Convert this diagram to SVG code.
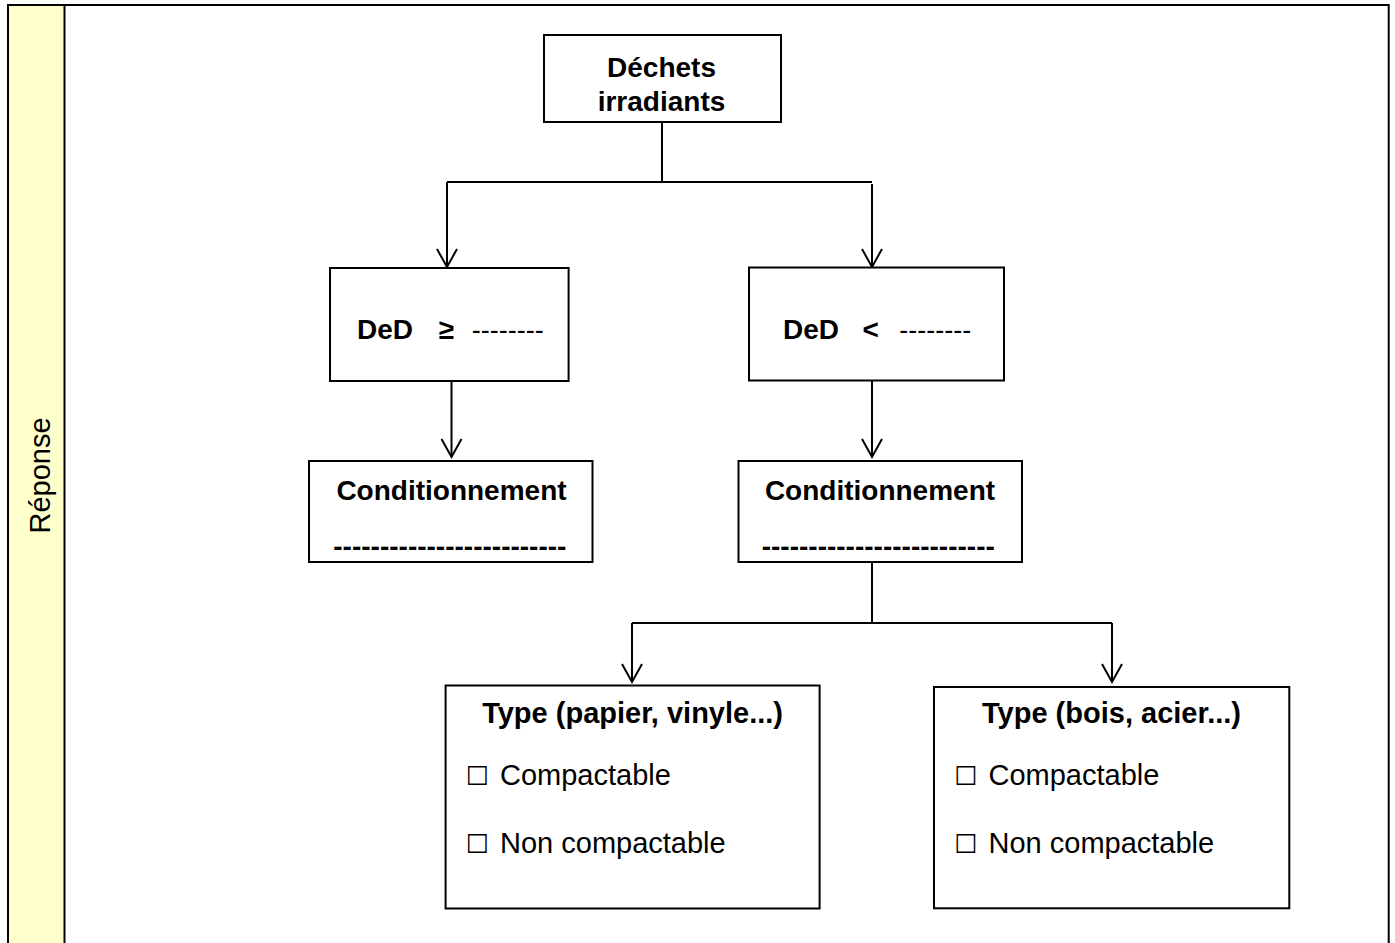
<svg xmlns="http://www.w3.org/2000/svg" width="1395" height="943" viewBox="0 0 1395 943">
<style>
.box{fill:#fff;stroke:#000;stroke-width:2}
.conn{fill:none;stroke:#000;stroke-width:2}
.b{font-family:"Liberation Sans",Arial,sans-serif;font-weight:bold;font-size:28px;fill:#000}
.r{font-family:"Liberation Sans",Arial,sans-serif;font-size:29px;fill:#000}
.ck{font-family:"DejaVu Sans",sans-serif;font-size:26px}
.m{text-anchor:middle}
</style>
<defs>
<marker id="v" markerUnits="userSpaceOnUse" viewBox="-20 -12 24 24" markerWidth="24" markerHeight="24" refX="0" refY="0" orient="auto">
<path d="M-18,-10 L0,0 L-18,10" fill="none" stroke="#000" stroke-width="2"/>
</marker>
</defs>
<rect width="1395" height="943" fill="#fff"/>
<g id="frame">
<rect x="8" y="5" width="56.5" height="940" fill="#FFFFCC"/>
<path d="M8,945 V5 H1388.7 V945 M64.5,5 V945" fill="none" stroke="#000" stroke-width="2"/>
<text class="r m" transform="translate(49.5,475.5) rotate(-90)">Réponse</text>
</g>
<g id="connectors">
<path class="conn" d="M662,122 V182 M447,182 H872"/>
<path class="conn" d="M447,182 V267" marker-end="url(#v)"/>
<path class="conn" d="M872,184 V267" marker-end="url(#v)"/>
<path class="conn" d="M451.5,381 V457" marker-end="url(#v)"/>
<path class="conn" d="M872,381 V457" marker-end="url(#v)"/>
<path class="conn" d="M872,562 V623 M632,623 H1112"/>
<path class="conn" d="M632,623 V682" marker-end="url(#v)"/>
<path class="conn" d="M1112,623 V682" marker-end="url(#v)"/>
</g>
<g id="n-dechets">
<rect class="box" x="544" y="35" width="237" height="87"/>
<text class="b m" x="661.5" y="77">Déchets</text>
<text class="b m" x="661.5" y="111">irradiants</text>
</g>
<g id="n-ded-ge">
<rect class="box" x="330" y="268" width="238.6" height="113"/>
<text class="b" x="357" y="338.5">DeD</text>
<text class="b" x="438.5" y="338.5">≥</text>
<text class="r" x="471.8" y="338.5" style="font-size:27px">--------</text>
</g>
<g id="n-ded-lt">
<rect class="box" x="749" y="267.5" width="255" height="113"/>
<text class="b" x="783" y="338.5">DeD</text>
<text class="b" x="862.5" y="338.5">&lt;</text>
<text class="r" x="899.3" y="338.5" style="font-size:27px">--------</text>
</g>
<g id="n-cond-left">
<rect class="box" x="309" y="461" width="283.5" height="101"/>
<text class="b m" x="451.5" y="499.5">Conditionnement</text>
<text class="b" x="333.3" y="556">-------------------------</text>
</g>
<g id="n-cond-right">
<rect class="box" x="738.5" y="461" width="283.5" height="101"/>
<text class="b m" x="880" y="499.5">Conditionnement</text>
<text class="b" x="761.7" y="556">-------------------------</text>
</g>
<g id="n-type-papier">
<rect class="box" x="445.6" y="685.5" width="374" height="223"/>
<text class="b m" x="632.6" y="723.3" style="font-size:29px">Type (papier, vinyle...)</text>
<text class="r" x="465.5" y="785"><tspan class="ck">☐</tspan> <tspan x="500">Compactable</tspan></text>
<text class="r" x="465.5" y="853"><tspan class="ck">☐</tspan> <tspan x="500">Non compactable</tspan></text>
</g>
<g id="n-type-bois">
<rect class="box" x="934" y="687" width="355.3" height="221.3"/>
<text class="b m" x="1111.5" y="723.3" style="font-size:29px">Type (bois, acier...)</text>
<text class="r" x="954" y="785"><tspan class="ck">☐</tspan> <tspan x="988.5">Compactable</tspan></text>
<text class="r" x="954" y="853"><tspan class="ck">☐</tspan> <tspan x="988.5">Non compactable</tspan></text>
</g>
</svg>
